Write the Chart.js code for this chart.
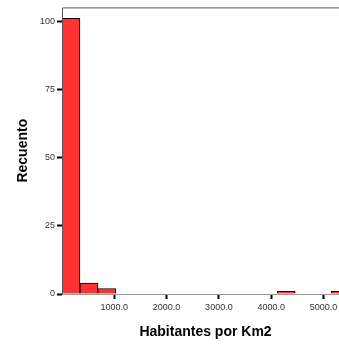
<!DOCTYPE html>
<html>
<head>
<meta charset="utf-8">
<script src="https://cdn.jsdelivr.net/npm/chart.js@4/dist/chart.umd.min.js"></script>
<style>
	html, body { margin: 0; padding: 0; background: #fff; overflow: hidden; }
	#wrap { width: 339px; height: 344px; overflow: hidden; position: relative; }
	#wrap canvas { position: absolute; left: 0; top: 0; }
</style>
</head>
<body>
<div id="wrap"><canvas id="chart" width="352" height="344"></canvas></div>
<script>
// histogram bins (Habitantes por Km2), width ~343
const binWidth = 343;
const binStarts = [0, 343, 686, 1029, 1372, 1715, 2058, 2401, 2744, 3087, 3430, 3773, 4116, 4459, 4802, 5145];
const counts = [101, 4, 2, 0, 0, 0, 0, 0, 0, 0, 0, 0, 1, 0, 0, 1];
const xTicks = [1000, 2000, 3000, 4000, 5000];
const yTicks = [0, 25, 50, 75, 100];

const points = binStarts.map((s, i) => ({ x: s + binWidth / 2, y: counts[i] }));

// draws the grey frame line on top and left of the plot
const framePlugin = {
	id: "frame",
	afterDatasetsDraw(chart) {
		const { ctx, chartArea } = chart;
		ctx.save();
		ctx.strokeStyle = "#555";
		ctx.lineWidth = 1;
		ctx.beginPath();
		ctx.moveTo(chartArea.left + 0.5, chartArea.bottom);
		ctx.lineTo(chartArea.left + 0.5, chartArea.top + 0.5);
		ctx.lineTo(chartArea.right, chartArea.top + 0.5);
		ctx.stroke();
		ctx.restore();
	},
};

new Chart(document.getElementById("chart"), {
	type: "bar",
	data: {
		datasets: [
			{
				data: points,
				backgroundColor: "#ff3333",
				borderColor: "#000",
				borderWidth: 1,
				barPercentage: 1,
				categoryPercentage: 1,
			},
		],
	},
	options: {
		responsive: false,
		animation: false,
		layout: { padding: { top: 5, right: 3, left: 0, bottom: 0 } },
		plugins: { legend: { display: false }, tooltip: { enabled: false } },
		scales: {
			x: {
				type: "linear",
				min: 0,
				max: 5488,
				offset: false,
				afterBuildTicks: (s) => { s.ticks = xTicks.map((v) => ({ value: v })); },
				afterFit: (s) => { s.height = 50; },
				grid: { offset: false, drawOnChartArea: false, drawTicks: true, tickLength: 5, tickColor: "#000", tickWidth: 2 },
				border: { display: true, color: "#999", width: 1 },
				ticks: {
					padding: 3,
					color: "#333",
					font: { family: "Liberation Sans, Arial", size: 9 },
					callback: (v) => v.toFixed(1),
				},
				title: {
					display: true,
					text: "Habitantes por Km2",
					color: "#000",
					font: { family: "Liberation Sans, Arial", size: 14, weight: "bold" },
					padding: { top: 3, bottom: 3 },
				},
			},
			y: {
				min: 0,
				max: 105,
				afterBuildTicks: (s) => { s.ticks = yTicks.map((v) => ({ value: v })); },
				afterFit: (s) => { s.width = 62; },
				grid: { drawOnChartArea: false, drawTicks: true, tickLength: 5, tickColor: "#000", tickWidth: 2 },
				border: { display: false },
				ticks: {
					padding: 2,
					color: "#333",
					font: { family: "Liberation Sans, Arial", size: 9 },
				},
				title: {
					display: true,
					text: "Recuento",
					color: "#000",
					font: { family: "Liberation Sans, Arial", size: 14, weight: "bold" },
					padding: { top: 15, bottom: 15 },
				},
			},
		},
	},
	plugins: [framePlugin],
});
</script>
</body>
</html>
